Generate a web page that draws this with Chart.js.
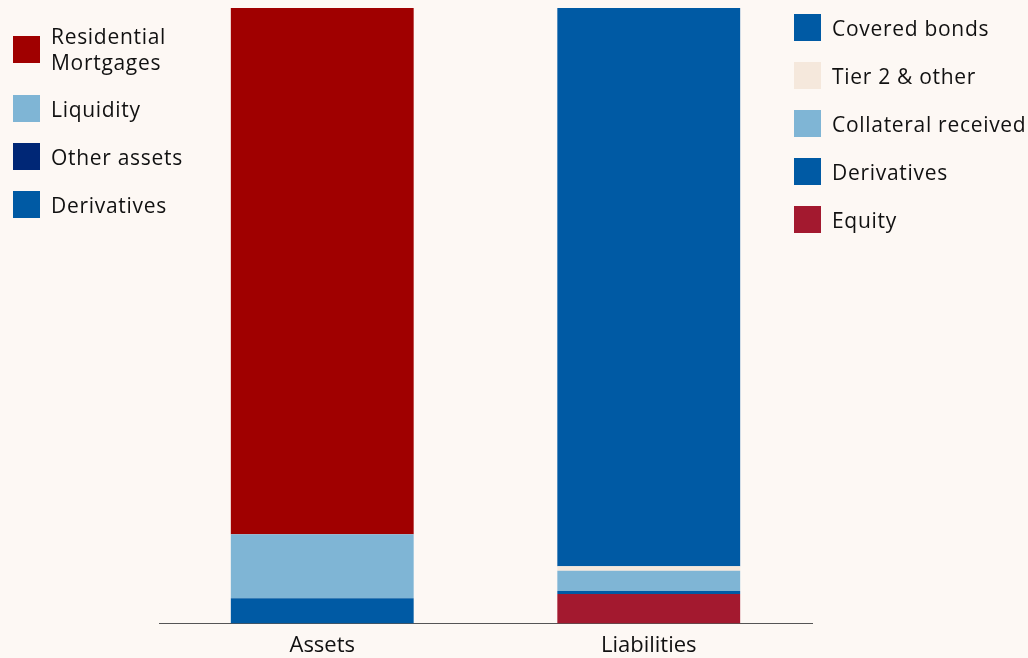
<!DOCTYPE html>
<html>
<head>
<meta charset="utf-8">
<script src="https://cdn.jsdelivr.net/npm/chart.js@4"></script>
<style>
  html, body { margin: 0; padding: 0; background: #fdf8f4; }
  #wrap { position: relative; width: 1028px; height: 658px; }
  canvas { position: absolute; left: 0; top: 0; }
  .legend { position: absolute; font-family: "Open Sans", sans-serif; font-size: 21px; letter-spacing: 0.7px; color: #111; }
  .item { display: flex; align-items: center; height: 27px; margin-bottom: 21px; }
  .item .box { width: 27px; height: 27px; flex: none; margin-right: 11px; }
  .item .txt { line-height: 26px; }
  #legendLeft { left: 13px; top: 22px; width: 190px; }
  #legendLeft .item:first-child { height: 54px; margin-bottom: 19px; }
  #legendRight { left: 794px; top: 14px; width: 234px; }
</style>
</head>
<body>
<div id="wrap">
  <canvas id="chart" width="1028" height="658"></canvas>
  <div class="legend" id="legendLeft"></div>
  <div class="legend" id="legendRight"></div>
</div>
<script>
const categories = ['Assets', 'Liabilities'];

// top to bottom, as in the legends (% of total)
const assetLabels = ['Residential\nMortgages', 'Liquidity', 'Other assets', 'Derivatives'];
const assetValues = [85.5, 10.4, 0, 4.1];
const assetColors = ['#a00000', '#7fb5d5', '#002776', '#005aa4'];

const liabilityLabels = ['Covered bonds', 'Tier 2 & other', 'Collateral received', 'Derivatives', 'Equity'];
const liabilityValues = [90.7, 0.7, 3.3, 0.5, 4.8];
const liabilityColors = ['#005aa4', '#f5e8dc', '#7fb5d5', '#005aa4', '#a3192f'];

function makeLegend(el, labels, colors) {
    labels.forEach((l, i) => {
        const item = document.createElement('div');
        item.className = 'item';
        const box = document.createElement('span');
        box.className = 'box';
        box.style.background = colors[i];
        const txt = document.createElement('span');
        txt.className = 'txt';
        txt.innerText = l;
        item.appendChild(box);
        item.appendChild(txt);
        el.appendChild(item);
    });
}
makeLegend(document.getElementById('legendLeft'), assetLabels, assetColors);
makeLegend(document.getElementById('legendRight'), liabilityLabels, liabilityColors);

const datasets = [];
// stack bottom-up: reverse of legend order
for (let i = assetLabels.length - 1; i >= 0; i--) {
    datasets.push({
        label: assetLabels[i],
        data: [assetValues[i], null],
        backgroundColor: assetColors[i],
    });
}
for (let i = liabilityLabels.length - 1; i >= 0; i--) {
    datasets.push({
        label: liabilityLabels[i],
        data: [null, liabilityValues[i]],
        backgroundColor: liabilityColors[i],
    });
}

new Chart(document.getElementById('chart'), {
    type: 'bar',
    data: { labels: categories, datasets: datasets },
    options: {
        responsive: false,
        animation: false,
        layout: { padding: { left: 159, right: 216, top: 8, bottom: -10 } },
        datasets: { bar: { barPercentage: 0.56, categoryPercentage: 1 } },
        plugins: { legend: { display: false }, tooltip: { enabled: false } },
        scales: {
            x: {
                stacked: true,
                grid: { display: false, drawTicks: false },
                border: { display: true, color: '#555', width: 1 },
                ticks: { color: '#111', padding: 9, font: { family: 'Open Sans', size: 22 } }
            },
            y: {
                stacked: true,
                display: false,
                min: 0,
                max: 100
            }
        }
    }
});
</script>
</body>
</html>
